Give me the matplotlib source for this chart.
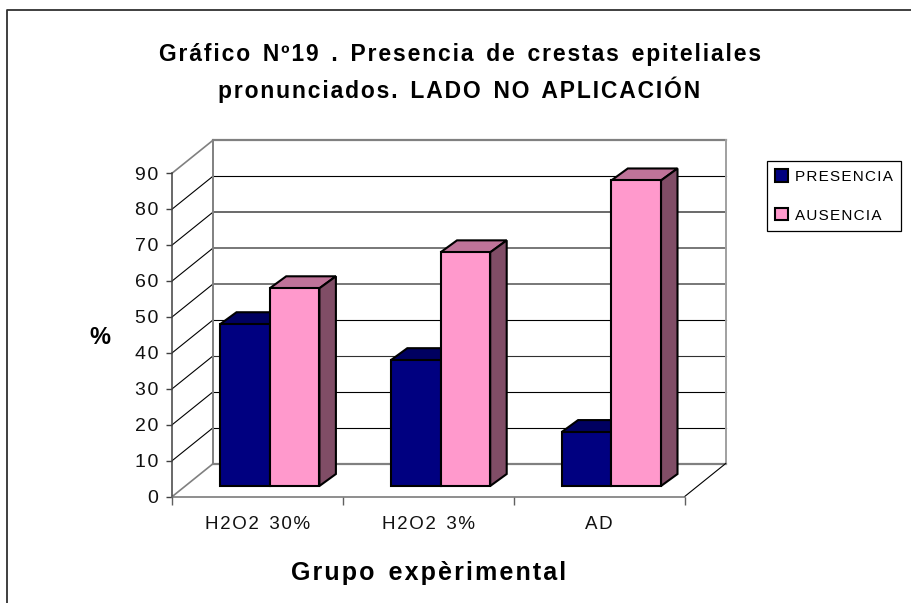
import matplotlib
matplotlib.use("Agg")
import matplotlib.pyplot as plt
from matplotlib.lines import Line2D
from matplotlib.patches import Polygon

# ---- data ----
categories = ["H2O2 30%", "H2O2 3%", "AD"]
presencia = [45, 35, 15]
ausencia = [55, 65, 85]
yticks = [0, 10, 20, 30, 40, 50, 60, 70, 80, 90]
series_names = ["PRESENCIA", "AUSENCIA"]
title_lines = ["Gráfico Nº19 . Presencia de crestas epiteliales",
               "pronunciados. LADO NO APLICACIÓN"]
xlabel = "Grupo expèrimental"
ylabel = "%"

W, H = 911, 603
FONT = ["Liberation Sans", "DejaVu Sans"]
plt.rcParams["font.family"] = FONT
HAIR = "\u200a"


def sp(s):
    return "  ".join(HAIR.join(w) for w in s.split(" "))


fig = plt.figure(figsize=(W / 100, H / 100), dpi=100, facecolor="white")
L, R, B, T = 172.3, 684.7, 496.5, 173.0
ax = fig.add_axes([L / W, 1 - B / H, (R - L) / W, (B - T) / H])
ax.set_xlim(0, 3)
ax.set_ylim(0, 90)
ax.patch.set_visible(False)
for s in ("top", "right"):
    ax.spines[s].set_visible(False)
ax.spines["left"].set_color("#404040")
ax.spines["left"].set_linewidth(1.1)
ax.spines["bottom"].set_color("#707070")
ax.spines["bottom"].set_linewidth(1.1)

PX = 3 / (R - L)
PY = 90 / (B - T)
wall_dx, wall_dy = 41 * PX, 33 * PY
bar_dx, bar_dy = 16.5 * PX, 12 * PY
base = 10.5 * PY
bar_w = 49.7 * PX
left0 = 47.7 * PX

# walls and grid
GRID_COL = {0: "#808080", 10: "#000000", 20: "#000000", 30: "#303030", 40: "#000000",
            50: "#606060", 60: "#606060", 70: "#505050", 80: "#000000", 90: "#808080"}
GRID_LW = {0: 1.6, 90: 1.6, 50: 1.2, 60: 1.2, 70: 1.2}
for v in yticks:
    ax.plot([wall_dx, 3 + wall_dx], [v + wall_dy] * 2, color=GRID_COL[v],
            lw=GRID_LW.get(v, 0.8), clip_on=False, zorder=1)
    col = "#808080" if v in (0, 90) else "#000000"
    ax.plot([0, wall_dx], [v, v + wall_dy], color=col,
            lw=1.2 if v in (0, 90) else 0.8, clip_on=False, zorder=1)
ax.plot([wall_dx, wall_dx], [wall_dy, 90 + wall_dy], color="#808080", lw=1.4, clip_on=False, zorder=1)
ax.plot([3 + wall_dx] * 2, [wall_dy, 90 + wall_dy], color="#a0a0a0", lw=1.4, clip_on=False, zorder=1)
ax.plot([3, 3 + wall_dx], [0, wall_dy], color="#000000", lw=0.8, clip_on=False, zorder=1)


def bars3d(x0, vals, front, top, side, z):
    lefts = [i + x0 for i in range(len(vals))]
    cont = ax.bar(lefts, vals, width=bar_w, bottom=base, align="edge", color=front,
                  edgecolor="black", linewidth=1.5, zorder=z + 1, clip_on=False)
    for x, v in zip(lefts, vals):
        y = v + base
        ax.add_patch(Polygon([(x, y), (x + bar_dx, y + bar_dy),
                              (x + bar_w + bar_dx, y + bar_dy), (x + bar_w, y)],
                             facecolor=top, edgecolor="black", lw=1.5, zorder=z, clip_on=False))
        ax.add_patch(Polygon([(x + bar_w, base), (x + bar_w + bar_dx, base + bar_dy),
                              (x + bar_w + bar_dx, y + bar_dy), (x + bar_w, y)],
                             facecolor=side, edgecolor="black", lw=1.5, zorder=z, clip_on=False))
    return cont


h1 = bars3d(left0, presencia, "#000080", "#000060", "#000040", 2)
h2 = bars3d(left0 + bar_w, ausencia, "#FF99CC", "#BF7399", "#804D66", 4)

# ticks
ax.set_yticks(yticks)
ax.set_yticklabels([HAIR.join(str(v)) for v in yticks], fontsize=14, color="#111111")
ax.tick_params(axis="y", length=4, width=1, color="#404040", pad=6)
ax.set_xticks([0, 1, 2, 3])
ax.set_xticklabels([])
ax.tick_params(axis="x", which="major", length=6, width=1, color="#606060")
ax.set_xticks([0.5, 1.5, 2.5], minor=True)
ax.set_xticklabels([sp(c) for c in categories], minor=True, fontsize=13.5, color="#111111")
ax.tick_params(axis="x", which="minor", length=0, pad=14)

ax.set_xlabel(sp(xlabel), fontsize=18, fontweight="bold", va="center")
ax.xaxis.set_label_coords(0.5, -(573 - B) / (B - T), transform=ax.transAxes)
ax.set_ylabel(ylabel, fontsize=17, fontweight="bold", rotation=0, ha="center", va="center")
ax.yaxis.set_label_coords((100 - L) / (R - L), (B - 337) / (B - T), transform=ax.transAxes)

fig.text(460 / W, 1 - 55 / H, sp(title_lines[0]), ha="center", va="center",
         fontsize=16.5, fontweight="bold", color="black")
fig.text(459 / W, 1 - 90 / H, sp(title_lines[1]), ha="center", va="center",
         fontsize=16.5, fontweight="bold", color="black")

leg = fig.legend([h1[0], h2[0]], [sp(n) for n in series_names], loc="center",
                 bbox_to_anchor=(834 / W, 1 - 196 / H), fontsize=11, frameon=True, fancybox=False,
                 edgecolor="black", framealpha=1, borderaxespad=0, handlelength=0.85, handleheight=0.85,
                 handletextpad=0.45, labelspacing=1.6, borderpad=0.55)
leg.get_frame().set_linewidth(0.9)

fig.add_artist(Line2D([7 / W, 7 / W, 1], [0, 1 - 10 / H, 1 - 10 / H], transform=fig.transFigure,
                      color="#303030", lw=1.3))
fig.savefig("out.png", dpi=100, facecolor="white")
